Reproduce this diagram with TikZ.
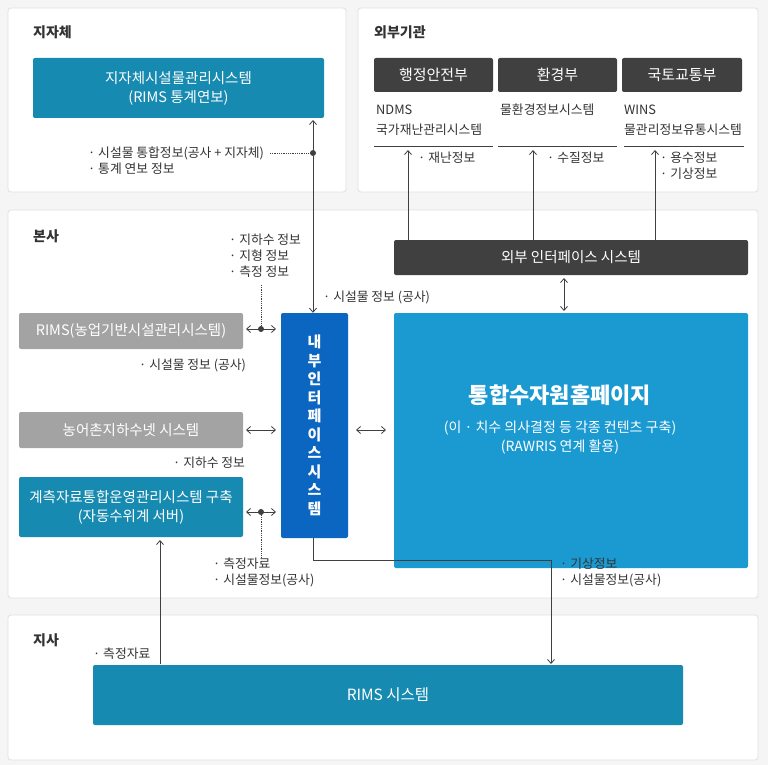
\documentclass[tikz,border=0pt]{standalone}
\usepackage{fontspec}
\setmainfont{Noto Sans CJK KR}
\usetikzlibrary{arrows.meta}
\definecolor{teal1}{HTML}{168AB0}
\definecolor{dark1}{HTML}{404040}
\definecolor{gray1}{HTML}{A3A3A3}
\definecolor{blue1}{HTML}{1B9AD2}
\definecolor{blue2}{HTML}{0A66C0}
\definecolor{txt}{HTML}{333333}
\begin{document}
\begin{tikzpicture}[x=1pt,y=-1pt,
 panel/.style={draw=black!12,fill=white,rounded corners=3pt,line width=0.8pt},
 box/.style={rounded corners=2pt,text=white,align=center,font=\fontsize{14.5}{19}\selectfont},
 lab/.style={anchor=west,text=txt,font=\fontsize{12.8}{14}\selectfont,inner sep=0},
 ttl/.style={anchor=west,text=txt,font=\fontsize{14}{16}\selectfont\bfseries,inner sep=0},
 conn/.style={draw=dark1,line width=0.8pt},
 arr/.style={conn,-{Straight Barb[length=4pt,width=7pt]}},
 darr/.style={conn,{Straight Barb[length=4pt,width=7pt]}-{Straight Barb[length=4pt,width=7pt]}},
 dot/.style={circle,fill=dark1,inner sep=0,minimum size=6pt},
 dotl/.style={conn,densely dotted}]
\fill[black!4] (0,0) rectangle (768,765);
\useasboundingbox (0,0) rectangle (768,765);
\draw[panel] (8,8) rectangle (346,192);
\draw[panel] (358,8) rectangle (758,192);
\draw[panel] (8,210) rectangle (758,598);
\draw[panel] (8,615) rectangle (758,760);
\node[ttl] (t1) at (33,32) {지자체};
\node[ttl] (t2) at (374,32) {외부기관};
\node[ttl] (t3) at (33,236) {본사};
\node[ttl] (t4) at (33,640) {지사};
% 지자체
\node[box,fill=teal1,minimum width=291,minimum height=60] (jj) at (178.5,88) {지자체시설물관리시스템\\(RIMS 통계연보)};
\node[lab] (l1) at (88,153) {· 시설물 통합정보(공사 + 지자체)};
\node[lab] (l2) at (88,169) {· 통계 연보 정보};
% 외부기관
\node[box,fill=dark1,minimum width=119,minimum height=34,font=\fontsize{15}{18}\selectfont] (m1) at (433.5,75) {행정안전부};
\node[box,fill=dark1,minimum width=119,minimum height=34,font=\fontsize{15}{18}\selectfont] (m2) at (557.5,75) {환경부};
\node[box,fill=dark1,minimum width=120,minimum height=34,font=\fontsize{15}{18}\selectfont] (m3) at (682,75) {국토교통부};
\node[lab] (s1a) at (376,110) {NDMS};
\node[lab] (s1b) at (376,130) {국가재난관리시스템};
\node[lab] (s2a) at (500,110) {물환경정보시스템};
\node[lab] (s3a) at (624,110) {WINS};
\node[lab] (s3b) at (624,130) {물관리정보유통시스템};
\coordinate (u1) at (374,146); \coordinate (u1e) at (493,146);
\coordinate (u2) at (498,146); \coordinate (u2e) at (617,146);
\coordinate (u3) at (624,146); \coordinate (u3e) at (744,146);
\draw[conn] (u1)--(u1e); \draw[conn] (u2)--(u2e); \draw[conn] (u3)--(u3e);
\node[lab] (r1) at (418,158) {· 재난정보};
\node[lab] (r2) at (547,158) {· 수질정보};
\node[lab] (r3) at (660,158) {· 용수정보};
\node[lab] (r4) at (660,174) {· 기상정보};
% 본사
\node[box,fill=dark1,minimum width=354,minimum height=35] (ext) at (571,257.5) {외부 인터페이스 시스템};
\node[box,fill=blue1,minimum width=354,minimum height=255] (home) at (571,440.5) {};
\node[text=white,font=\fontsize{22}{26}\selectfont\bfseries] (hm1) at (560,395) {통합수자원홈페이지};
\node[text=white,align=center,font=\fontsize{14}{19}\selectfont] (hm2) at (560,438) {(이 · 치수 의사결정 등 각종 컨텐츠 구축)\\(RAWRIS 연계 활용)};
\node[box,fill=blue2,minimum width=67,minimum height=225,font=\fontsize{15}{18.5}\selectfont\bfseries] (int) at (314.5,425.5) {내\\부\\인\\터\\페\\이\\스\\시\\스\\템};
\node[box,fill=gray1,minimum width=224,minimum height=36] (rims1) at (131,331) {RIMS(농업기반시설관리시스템)};
\node[box,fill=gray1,minimum width=224,minimum height=36] (nong) at (131,430) {농어촌지하수넷 시스템};
\node[box,fill=teal1,minimum width=224,minimum height=60] (gye) at (131,507) {계측자료통합운영관리시스템 구축\\(자동수위계 서버)};
\node[lab] (a1) at (229,240) {· 지하수 정보};
\node[lab] (a2) at (229,256) {· 지형 정보};
\node[lab] (a3) at (229,272) {· 측정 정보};
\node[lab] (a4) at (323,297) {· 시설물 정보 (공사)};
\node[lab] (a5) at (139,365) {· 시설물 정보 (공사)};
\node[lab] (a6) at (173,463) {· 지하수 정보};
\node[lab] (a7) at (213,564) {· 측정자료};
\node[lab] (a8) at (213,580) {· 시설물정보(공사)};
\node[lab] (a9) at (560,564) {· 기상정보};
\node[lab] (a10) at (560,580) {· 시설물정보(공사)};
% 지사
\node[box,fill=teal1,minimum width=590,minimum height=60,font=\fontsize{15.5}{18}\selectfont] (rims) at (388,695) {RIMS 시스템};
\node[lab] (a11) at (93,654) {· 측정자료};
% connectors
\node[dot] (d0) at (313,153) {};
\draw[dotl] (270,153) -- (d0);
\draw[conn,{Straight Barb[length=4pt,width=7pt]}-] (313,120) -- (d0);
\draw[arr] (d0) -- (d0 |- int.north);
\draw[arr] (408,240) -- (408,150);
\draw[arr] (533,240) -- (533,150);
\draw[arr] (655,240) -- (655,150);
\draw[darr] (564,278) -- (564,311);
\node[dot] (d1) at (261,329) {};
\node[dot] (d2) at (261,512) {};
\draw[darr] (246,329) -- (276,329);
\draw[darr] (246,430) -- (276,430);
\draw[darr] (246,512) -- (276,512);
\draw[darr] (356,430) -- (386,430);
\draw[dotl] (261,285) -- (d1);
\draw[dotl] (d2) -- (261,558);
\draw[conn] (313,538) |- (551,560);
\draw[arr] (551,560) -- (551,664);
\draw[arr] (160,664) -- (160,540);
\end{tikzpicture}
\end{document}
